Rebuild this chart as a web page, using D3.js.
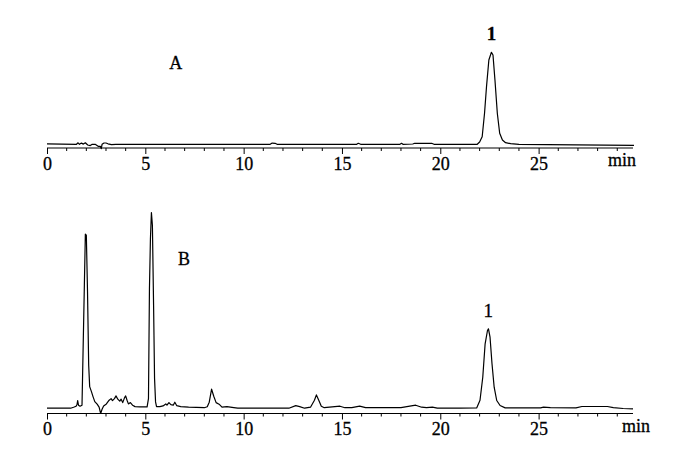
<!DOCTYPE html>
<html>
<head>
<meta charset="utf-8">
<script src="https://cdn.jsdelivr.net/npm/d3@7"></script>
<style>
  html, body { margin: 0; padding: 0; background: #fff; }
  svg { display: block; }
</style>
</head>
<body>
<svg id="chart" width="682" height="456"></svg>
<script>
// ---- Data ----
const timeA   = [0, 1.5, 1.58, 1.65, 1.75, 1.85, 1.95, 2.07, 2.2, 2.3, 2.45, 2.6, 2.71, 2.76, 2.8, 2.9, 3.0, 3.1, 3.28, 3.5,
                 11.35, 11.45, 11.6, 11.7, 15.75, 15.83, 15.95, 17.95, 18.03, 18.1, 18.6, 18.7, 19.56, 19.68,
                 21.88, 22.0, 22.13, 22.25, 22.35, 22.47, 22.6, 22.68, 22.78, 22.9, 23.02, 23.16, 23.32, 23.58, 24, 29.85];
const signalA = [0.5, 0, 1.5, 0, 1.2, 0.2, 1.5, -0.7, -1.3, 0, 0, -2, -2, -4.3, 0, 1.3, 1.3, 0.5, -0.4, 0,
                 0, 1.2, 1, 0, 0, 1, 0, 0, 1, 0, 0.3, 1, 1, 0,
                 0, 2.3, 7.6, 31, 57.6, 84.3, 92, 89.3, 64.3, 31, 11, 4.3, 1.6, 0.6, 0, -1];

const timeB   = [0, 1.2, 1.35, 1.48, 1.53, 1.56, 1.6, 1.68, 1.78, 1.85, 1.9, 1.95, 2.0, 2.06, 2.12, 2.17, 2.26, 2.34, 2.43,
                 2.55, 2.65, 2.73, 2.8, 2.88, 3.02, 3.16, 3.26, 3.33, 3.43, 3.51, 3.6, 3.7, 3.77, 3.85, 3.94, 4.0, 4.07,
                 4.14, 4.24, 4.35, 4.48, 4.72, 5.09, 5.16, 5.21, 5.26, 5.31, 5.36, 5.42, 5.47, 5.52, 5.57, 5.74, 5.9,
                 6.04, 6.1, 6.2, 6.3, 6.42, 6.5, 6.6, 6.8, 7.2, 8.0, 8.15, 8.25, 8.37, 8.48, 8.6, 8.75, 8.9, 9.15, 9.5,
                 9.7, 12.3, 12.65, 12.85, 13.1, 13.4, 13.6, 13.7, 13.82, 13.95, 14.1, 14.9, 15.15, 15.5, 15.9, 16.2,
                 18.0, 18.75, 19.05, 19.3, 19.6, 19.85, 21.0, 21.85, 22.02, 22.16, 22.28, 22.4, 22.45, 22.53, 22.63,
                 22.74, 22.87, 23.04, 23.3, 25.1, 25.25, 25.6, 26.9, 27.2, 28.5, 28.8, 29.3, 29.8];
const signalB = [0, 0, 1, 2, 4, 7.5, 3, 2, 3, 73, 123, 174, 173, 117, 43, 21.6, 16.6, 11.6, 6.6,
                 4, 1, -5.3, -1, 2.3, 4.3, 8, 9.6, 7.6, 9.6, 12.3, 9, 7, 9, 5.6, 10.3, 12.3, 8,
                 4.3, 5.6, 3, 1.6, 1.3, 1.3, 9.6, 119.6, 169.6, 195.6, 183, 103, 29.6, 6.3, 1.6, 1.6, 2.3,
                 4.3, 3, 5.6, 3.5, 3, 6, 2.5, 1.5, 1, 0.5, 1.5, 6, 19, 12, 5.6, 4, 1, 1.5, 0.5,
                 0, 0, 2.6, 1.6, 0, 1, 8, 13.3, 8, 2, 0.5, 2, 0.5, 0.5, 2, 0.5,
                 0.5, 3, 1, 0.5, 1, 0, 0, 0.3, 8, 31, 64.4, 77.7, 79.4, 71, 44.4,
                 21, 7.7, 2.7, 0.3, 0.3, 1, 0.5, 0.3, 1.7, 1.7, 0.5, -0.3, -0.6];

const majorTicks = [0, 5, 10, 15, 20, 25];
const minorTicks = d3.range(0, 30, 1);
const panelLabels = ["A", "B"];
const peakLabel = "1";
const peakTimes = [22.6, 22.44];
const peakHeights = [92, 79.4];
const unitLabel = "min";

// ---- Layout ----
const FONT = '"Liberation Serif", "Times New Roman", serif';
const svg = d3.select("#chart");
const x = d3.scaleLinear().domain([0, 29.8]).range([47, 633]);

const panels = [
  { t: timeA, s: signalA, yZero: 144.3, axisY: 148, label: panelLabels[0], lx: 175.7, ly: 68.5,
    minX: 622, peakT: peakTimes[0], peakH: peakHeights[0], peakBold: true },
  { t: timeB, s: signalB, yZero: 408.2, axisY: 413.5, label: panelLabels[1], lx: 184, ly: 264.5,
    minX: 636, peakT: peakTimes[1], peakH: peakHeights[1], peakBold: false }
];

function styleText(sel, size) {
  sel.attr("font-family", FONT).attr("font-size", size).attr("fill", "#000")
     .attr("stroke", "#000").attr("stroke-width", 0.3);
}

panels.forEach(p => {
  const y = d3.scaleLinear().domain([0, 100]).range([p.yZero, p.yZero - 100]);
  const g = svg.append("g");

  g.append("line")
    .attr("x1", x(0)).attr("x2", x(29.8))
    .attr("y1", p.axisY).attr("y2", p.axisY)
    .attr("stroke", "#000").attr("stroke-width", 1.2);

  g.selectAll(".minor").data(minorTicks.filter(v => v % 5 !== 0)).enter().append("line")
    .attr("x1", d => x(d)).attr("x2", d => x(d))
    .attr("y1", p.axisY).attr("y2", p.axisY + 3)
    .attr("stroke", "#000").attr("stroke-width", 1);

  const axis = d3.axisBottom(x).tickValues(majorTicks).tickSize(6).tickPadding(3)
    .tickFormat(d3.format("d"));
  const ag = g.append("g").attr("transform", `translate(0,${p.axisY})`).call(axis);
  ag.attr("font-family", FONT).attr("font-size", 18);
  ag.select(".domain").remove();
  styleText(ag.selectAll("text"), 18);
  ag.selectAll("line").attr("stroke", "#000");

  styleText(g.append("text").attr("x", p.minX).attr("y", p.axisY + 18)
    .attr("text-anchor", "middle").text(unitLabel), 18);

  const pts = p.t.map((t, i) => [t, p.s[i]]);
  g.append("path").datum(pts)
    .attr("fill", "none").attr("stroke", "#000").attr("stroke-width", 1.2)
    .attr("stroke-linejoin", "round")
    .attr("d", d3.line().x(d => x(d[0])).y(d => y(d[1])));

  styleText(g.append("text").attr("x", p.lx).attr("y", p.ly).attr("text-anchor", "middle")
    .text(p.label), 18);

  styleText(g.append("text").attr("x", x(p.peakT)).attr("y", y(p.peakH) - 12)
    .attr("text-anchor", "middle")
    .attr("font-weight", p.peakBold ? "bold" : "normal").text(peakLabel), 19);
});
</script>
</body>
</html>
